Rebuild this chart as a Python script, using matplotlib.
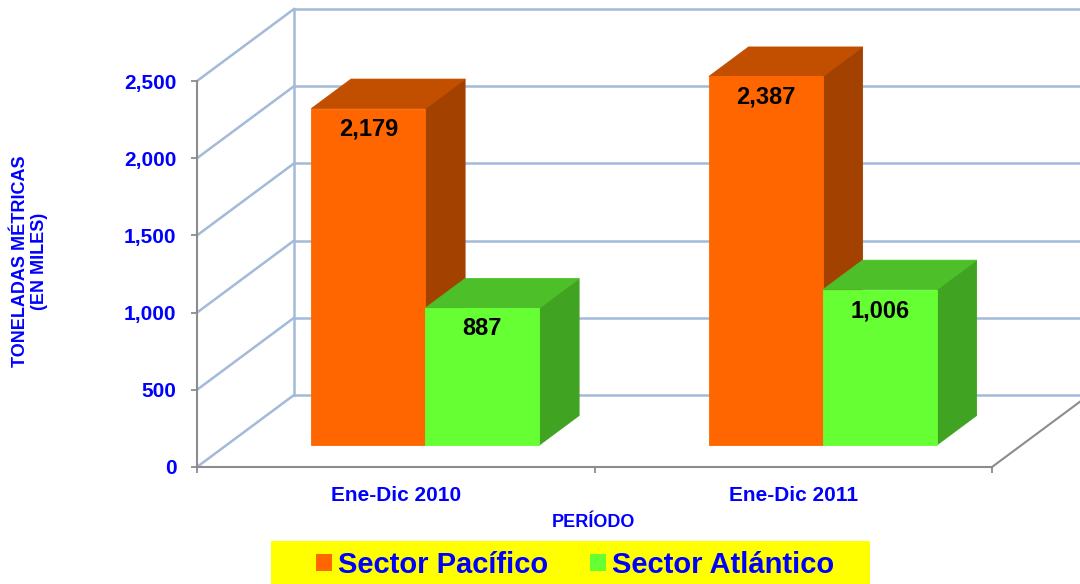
import matplotlib
matplotlib.use("Agg")
import matplotlib.pyplot as plt
from matplotlib.patches import Polygon, Rectangle, Patch
from matplotlib.ticker import FuncFormatter

plt.rcParams['font.family'] = ['Liberation Sans', 'DejaVu Sans']
plt.rcParams['font.weight'] = 'bold'

# ---------------- data ----------------
categories = ['Ene-Dic 2010', 'Ene-Dic 2011']
series_names = ['Sector Pacífico', 'Sector Atlántico']
pacifico = [2179, 2387]
atlantico = [887, 1006]
yticks = [0, 500, 1000, 1500, 2000, 2500]
ylabel_text = 'TONELADAS MÉTRICAS\n(EN MILES)'
xlabel_text = 'PERÍODO'

# ---------------- style ----------------
BLUE = '#0000FF'
GRID = '#A3BAD9'
AXIS_GRAY = '#8C8C8C'
FACE = {'front': ['#FF6600', '#66FF33'],
        'top':   ['#C24E00', '#4DBF29'],
        'side':  ['#A34200', '#40A321']}

W_PX, H_PX = 1080, 584
fig = plt.figure(figsize=(W_PX / 100, H_PX / 100), dpi=100)
ax_left, ax_bottom, ax_w, ax_h = 197, 117, 795, 386   # pixels
ax = fig.add_axes([ax_left / W_PX, ax_bottom / H_PX, ax_w / W_PX, ax_h / H_PX])
ax.set_xlim(-0.5, len(categories) - 0.5)
ax.set_ylim(0, yticks[-1])
ax.patch.set_alpha(0)

px_per_x = ax_w / (len(categories))
px_per_y = ax_h / yticks[-1]
DEPTH_PX_X, DEPTH_PX_Y = 97, 72           # full-depth oblique shift in pixels
DX = DEPTH_PX_X / px_per_x
DY = DEPTH_PX_Y / px_per_y
BAR_D0, BAR_D1 = 0.305, 0.715               # bar depth range (fraction of wall depth)
BAR_W = 114 / px_per_x


def P(x, y, d):
    return (x + d * DX, y + d * DY)


x0, x1 = -0.5, len(categories) - 0.5
# back wall horizontal gridlines + side wall diagonals
for t in yticks:
    a = P(x0, t, 1)
    b = P(x1, t, 1)
    ax.plot([a[0], b[0]], [a[1], b[1]], color=GRID, lw=1.8, clip_on=False, zorder=1)
    c = P(x0, t, 0)
    ax.plot([c[0], a[0]], [c[1], a[1]], color=GRID, lw=1.8, clip_on=False, zorder=1)
# back wall left vertical edge
a, b = P(x0, 0, 1), P(x0, yticks[-1], 1)
ax.plot([a[0], b[0]], [a[1], b[1]], color=GRID, lw=1.8, clip_on=False, zorder=1)
# floor right edge
a, b = P(x1, 0, 0), P(x1, 0, 1)
ax.plot([a[0], b[0]], [a[1], b[1]], color=AXIS_GRAY, lw=1.5, clip_on=False, zorder=1)


def draw_bar(xl, xr, v, k):
    front = [P(xl, 0, BAR_D0), P(xr, 0, BAR_D0), P(xr, v, BAR_D0), P(xl, v, BAR_D0)]
    top = [P(xl, v, BAR_D0), P(xr, v, BAR_D0), P(xr, v, BAR_D1), P(xl, v, BAR_D1)]
    side = [P(xr, 0, BAR_D0), P(xr, v, BAR_D0), P(xr, v, BAR_D1), P(xr, 0, BAR_D1)]
    for pts, key in ((side, 'side'), (top, 'top'), (front, 'front')):
        ax.add_patch(Polygon(pts, closed=True, facecolor=FACE[key][k],
                             edgecolor=FACE[key][k], lw=0.6, clip_on=False, zorder=3))
    cx, cy = P((xl + xr) / 2, v, BAR_D0)
    ax.annotate(f'{v:,}', (cx, cy), xytext=(0, -15), textcoords='offset points',
                ha='center', va='center', fontsize=17, fontweight='bold',
                color='black', zorder=5, annotation_clip=False)


for i, (vp, va) in enumerate(zip(pacifico, atlantico)):
    draw_bar(i - BAR_W, i, vp, 0)
    draw_bar(i, i + BAR_W, va, 1)

# axes styling
for s in ('top', 'right'):
    ax.spines[s].set_visible(False)
for s in ('left', 'bottom'):
    ax.spines[s].set_color(AXIS_GRAY)
    ax.spines[s].set_linewidth(1.5)
    ax.spines[s].set_zorder(2)

ax.set_yticks(yticks)
ax.yaxis.set_major_formatter(FuncFormatter(lambda v, p: f'{int(v):,}'))
ax.tick_params(axis='y', length=4.3, width=1.3, color=AXIS_GRAY, pad=10.5,
               labelsize=15, labelcolor=BLUE)

ax.set_xticks(range(len(categories)))
ax.set_xticklabels(categories)
ax.set_xticks([i - 0.5 for i in range(len(categories) + 1)], minor=True)
ax.tick_params(axis='x', which='major', length=0, pad=14, labelsize=15, labelcolor=BLUE)
ax.tick_params(axis='x', which='minor', length=4.3, width=1.3, color=AXIS_GRAY)
for lab in ax.get_xticklabels() + ax.get_yticklabels():
    lab.set_fontweight('bold')

ax.text(-0.21, 0.534, ylabel_text, transform=ax.transAxes, rotation=90,
        ha='center', va='center', multialignment='center', fontsize=13,
        fontweight='bold', color=BLUE, linespacing=1.15)
ax.text(0.499, -0.1425, xlabel_text, transform=ax.transAxes, ha='center', va='center',
        fontsize=13, fontweight='bold', color=BLUE)

# legend with yellow band
fig.add_artist(Rectangle((271 / W_PX, 0), 599 / W_PX, 43 / H_PX, transform=fig.transFigure,
                         facecolor='#FFFF00', edgecolor='none', zorder=1))
handles = [Patch(facecolor=FACE['front'][0], edgecolor='none'),
           Patch(facecolor=FACE['front'][1], edgecolor='none')]
fig.legend(handles, series_names, loc='center', bbox_to_anchor=(575 / W_PX, 1 - 565 / H_PX),
           ncol=2, frameon=False, prop=dict(family='Liberation Sans', weight='bold', size=21),
           labelcolor=BLUE, handlelength=0.55, handleheight=0.55, handletextpad=0.2,
           columnspacing=1.45, borderpad=0, borderaxespad=0)

fig.savefig('out.png', dpi=100)
